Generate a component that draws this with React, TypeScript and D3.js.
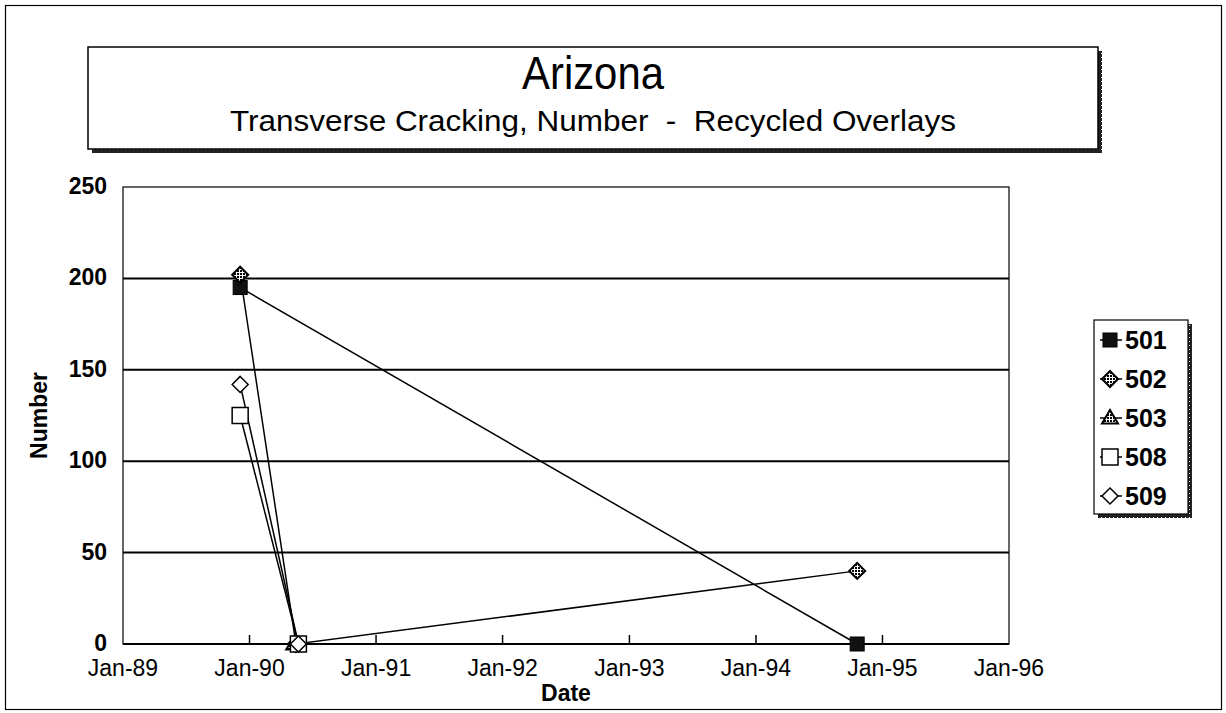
import React from "react";
import * as d3 from "d3";

const W = 1226;
const H = 713;

const yTicks = [0, 50, 100, 150, 200, 250];
const xTickYears = [1989, 1990, 1991, 1992, 1993, 1994, 1995, 1996];
const xTickLabels = ["Jan-89", "Jan-90", "Jan-91", "Jan-92", "Jan-93", "Jan-94", "Jan-95", "Jan-96"];

const seriesNames = ["501", "502", "503", "508", "509"];
const s501 = [
  { date: "1989-12-05", value: 195 },
  { date: "1994-10-20", value: 0 },
];
const s502 = [
  { date: "1989-12-05", value: 202 },
  { date: "1990-05-15", value: 0 },
  { date: "1994-10-20", value: 40 },
];
const s503 = [{ date: "1990-05-10", value: 0 }];
const s508 = [
  { date: "1989-12-05", value: 125 },
  { date: "1990-05-22", value: 0 },
];
const s509 = [
  { date: "1989-12-05", value: 142 },
  { date: "1990-05-22", value: 0 },
];
const allSeries = [s501, s502, s503, s508, s509];
const markerKinds = ["filledSquare", "hatchDiamond", "hatchTriangle", "openSquare", "openDiamond"];

const FONT = "'Liberation Sans', Arial, sans-serif";

function Marker({ kind, x, y }: { kind: string; x: number; y: number }) {
  if (kind === "filledSquare") {
    return <rect x={x - 7} y={y - 7} width={14} height={14} fill="#111" stroke="#000" strokeWidth={1} />;
  }
  if (kind === "hatchDiamond") {
    const r = 8;
    return (
      <path
        d={`M${x},${y - r}L${x + r},${y}L${x},${y + r}L${x - r},${y}Z`}
        fill="url(#hatch)"
        stroke="#000"
        strokeWidth={2}
      />
    );
  }
  if (kind === "hatchTriangle") {
    const r = 8;
    return (
      <path
        d={`M${x},${y - r}L${x + r},${y + r * 0.7}L${x - r},${y + r * 0.7}Z`}
        fill="url(#hatch)"
        stroke="#000"
        strokeWidth={2}
      />
    );
  }
  if (kind === "openSquare") {
    return <rect x={x - 8} y={y - 8} width={16} height={16} fill="#fff" stroke="#000" strokeWidth={1.5} />;
  }
  const r = 8;
  return (
    <path
      d={`M${x},${y - r}L${x + r},${y}L${x},${y + r}L${x - r},${y}Z`}
      fill="#fff"
      stroke="#000"
      strokeWidth={1.5}
    />
  );
}

export default function App() {
  const plot = { left: 123, right: 1009, top: 187, bottom: 644 };
  const parse = d3.timeParse("%Y-%m-%d");
  const x = d3
    .scaleTime()
    .domain([new Date(1989, 0, 1), new Date(1996, 0, 1)])
    .range([plot.left, plot.right]);
  const y = d3.scaleLinear().domain([0, 250]).range([plot.bottom, plot.top]);
  const line = d3
    .line<{ date: string; value: number }>()
    .x((d) => x(parse(d.date) as Date))
    .y((d) => y(d.value));

  const title = { x: 88, y: 47, w: 1010, h: 102 };
  const legend = { x: 1094, y: 320, w: 94, h: 194 };

  return (
    <div style={{ position: "fixed", left: 0, top: 0, width: W, height: H, background: "#fff" }}>
      <svg width={W} height={H} style={{ display: "block" }}>
        <defs>
          <pattern id="hatch" width="3" height="3" patternUnits="userSpaceOnUse">
            <rect width="3" height="3" fill="#fff" />
            <rect width="2" height="2" fill="#000" />
          </pattern>
          <pattern id="shadow" width="4" height="4" patternUnits="userSpaceOnUse">
            <rect width="4" height="4" fill="#222" />
            <rect width="1" height="1" x="1" y="1" fill="#fff" />
          </pattern>
        </defs>
        <rect x={0} y={0} width={W} height={H} fill="#fff" />
        {/* outer frame */}
        <rect x={5.5} y={5.5} width={1216} height={704} fill="none" stroke="#000" strokeWidth={1.2} />

        {/* title box */}
        <rect x={title.x + 4} y={title.y + 4} width={title.w} height={title.h} fill="url(#shadow)" />
        <rect x={title.x} y={title.y} width={title.w} height={title.h} fill="#fff" stroke="#000" strokeWidth={1.5} />
        <text
          x={title.x + title.w / 2}
          y={title.y + 42}
          textAnchor="middle"
          fontFamily={FONT}
          fontSize={46}
          textLength={142}
          lengthAdjust="spacingAndGlyphs"
          fill="#000"
        >
          Arizona
        </text>
        <text
          x={title.x + title.w / 2}
          y={title.y + 84}
          textAnchor="middle"
          fontFamily={FONT}
          fontSize={29}
          textLength={726}
          lengthAdjust="spacingAndGlyphs"
          fill="#000"
          xmlSpace="preserve"
        >
          Transverse Cracking, Number  -  Recycled Overlays
        </text>

        {/* plot area */}
        <rect
          x={plot.left}
          y={plot.top}
          width={plot.right - plot.left}
          height={plot.bottom - plot.top}
          fill="#fff"
          stroke="#000"
          strokeWidth={1.2}
        />
        {yTicks.slice(1, -1).map((t) => (
          <line key={t} x1={plot.left} x2={plot.right} y1={y(t)} y2={y(t)} stroke="#000" strokeWidth={2} />
        ))}
        <line x1={plot.left} x2={plot.right} y1={y(0)} y2={y(0)} stroke="#000" strokeWidth={2} />
        {yTicks.map((t) => (
          <text
            key={t}
            x={107}
            y={y(t) + 7}
            textAnchor="end"
            fontFamily={FONT}
            fontWeight="bold"
            fontSize={23}
            fill="#000"
          >
            {t}
          </text>
        ))}
        {xTickYears.map((yr, i) => {
          const px = x(new Date(yr, 0, 1));
          return (
            <g key={yr}>
              {i > 0 && i < xTickYears.length - 1 && (
                <line x1={px} x2={px} y1={plot.bottom} y2={plot.bottom - 9} stroke="#000" strokeWidth={1.5} />
              )}
              <text
                x={px}
                y={plot.bottom + 32}
                textAnchor="middle"
                fontFamily={FONT}
                fontSize={23}
                fill="#000"
              >
                {xTickLabels[i]}
              </text>
            </g>
          );
        })}
        <text
          x={(plot.left + plot.right) / 2}
          y={plot.bottom + 57}
          textAnchor="middle"
          fontFamily={FONT}
          fontWeight="bold"
          fontSize={23}
          fill="#000"
        >
          Date
        </text>
        <text
          transform={`translate(47,${(plot.top + plot.bottom) / 2}) rotate(-90)`}
          textAnchor="middle"
          fontFamily={FONT}
          fontWeight="bold"
          fontSize={23}
          fill="#000"
        >
          Number
        </text>

        {/* series lines */}
        {allSeries.map((s, i) => (
          <path key={"l" + i} d={line(s) || ""} fill="none" stroke="#000" strokeWidth={1.5} />
        ))}
        {allSeries.map((s, i) =>
          s.map((d, j) => (
            <Marker key={`m${i}-${j}`} kind={markerKinds[i]} x={x(parse(d.date) as Date)} y={y(d.value)} />
          ))
        )}

        {/* legend */}
        <rect x={legend.x + 4} y={legend.y + 4} width={legend.w} height={legend.h} fill="url(#shadow)" />
        <rect x={legend.x} y={legend.y} width={legend.w} height={legend.h} fill="#fff" stroke="#000" strokeWidth={1.2} />
        {seriesNames.map((n, i) => {
          const ly = legend.y + 20 + i * 39;
          return (
            <g key={n}>
              <line x1={legend.x + 6} x2={legend.x + 28} y1={ly} y2={ly} stroke="#000" strokeWidth={1.5} />
              <Marker kind={markerKinds[i]} x={legend.x + 16} y={ly} />
              <text x={legend.x + 31} y={ly + 9} fontFamily={FONT} fontWeight="bold" fontSize={25} fill="#000">
                {n}
              </text>
            </g>
          );
        })}
      </svg>
    </div>
  );
}
